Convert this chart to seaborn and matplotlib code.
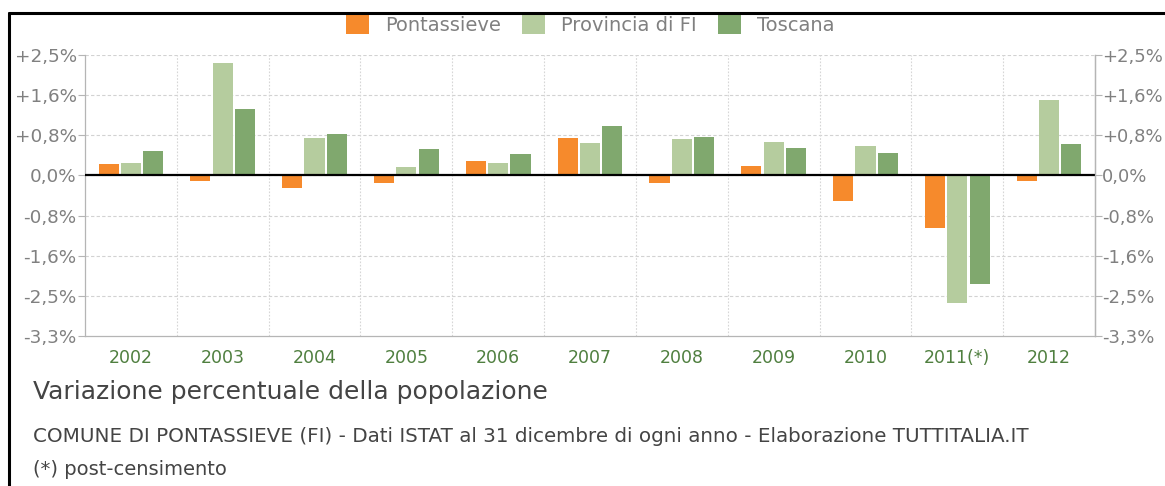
import matplotlib
matplotlib.use("Agg")
import matplotlib.pyplot as plt
from matplotlib.lines import Line2D
import seaborn as sns
import pandas as pd

# Annual population change (%), Pontassieve vs province and region
years = ["2002", "2003", "2004", "2005", "2006", "2007", "2008", "2009", "2010", "2011(*)", "2012"]
pontassieve = [0.23, -0.12, -0.26, -0.16, 0.29, 0.76, -0.16, 0.19, -0.53, -1.08, -0.12]
provincia_fi = [0.25, 2.31, 0.76, 0.17, 0.25, 0.66, 0.74, 0.68, 0.60, -2.62, 1.55]
toscana = [0.51, 1.37, 0.86, 0.55, 0.45, 1.02, 0.80, 0.56, 0.47, -2.23, 0.64]
series_names = ["Pontassieve", "Provincia di FI", "Toscana"]
series_colors = ["#f68a2c", "#b5cc9e", "#80a86e"]

ytick_values = [-3.3, -2.475, -1.65, -0.825, 0.0, 0.825, 1.65, 2.475]
ytick_labels = ["-3,3%", "-2,5%", "-1,6%", "-0,8%", "0,0%", "+0,8%", "+1,6%", "+2,5%"]

title = "Variazione percentuale della popolazione"
caption = ("COMUNE DI PONTASSIEVE (FI) - Dati ISTAT al 31 dicembre di ogni anno - "
           "Elaborazione TUTTITALIA.IT")
footnote = "(*) post-censimento"

df = pd.DataFrame({
    "anno": years * 3,
    "serie": [s for s in series_names for _ in years],
    "variazione": pontassieve + provincia_fi + toscana,
})

sns.set_theme(style="white")
plt.rcParams["font.family"] = ["DejaVu Sans"]

W, H = 1165, 486
fig = plt.figure(figsize=(W / 100, H / 100), dpi=100)
fig.patch.set_facecolor("white")
ax = fig.add_axes([85 / W, (H - 336) / H, 1010 / W, 281 / H])

sns.barplot(data=df, x="anno", y="variazione", hue="serie", order=years,
            hue_order=series_names, palette=series_colors, saturation=1,
            width=0.73, gap=0.1, linewidth=0, errorbar=None, ax=ax, zorder=3)

ax.set_xlim(-0.5, len(years) - 0.5)
ax.set_ylim(ytick_values[0], ytick_values[-1])
ax.set_yticks(ytick_values)
ax.set_yticklabels(ytick_labels)
ax.set_xlabel("")
ax.set_ylabel("")

for v in ytick_values[1:]:
    ax.axhline(v, color="#d2d2d2", lw=0.8, ls=(0, (3, 2)), zorder=1)
for i in range(1, len(years)):
    ax.axvline(i - 0.5, color="#d6d6d6", lw=0.8, ls=(0, (1.5, 1.5)), zorder=1)
ax.axhline(0, color="black", lw=1.6, zorder=4)

ax.spines["top"].set_visible(False)
for side in ["left", "right", "bottom"]:
    ax.spines[side].set_color("#b5b5b5")
    ax.spines[side].set_linewidth(0.9)

ax.tick_params(axis="y", which="both", left=True, length=5, width=0.8,
               color="#b5b5b5", labelsize=13.2, labelcolor="#808080", pad=1)
ax.tick_params(axis="x", bottom=False, labelsize=12.5, labelcolor="#4f7f3f", pad=3)

ax2 = ax.twinx()
ax2.set_ylim(ytick_values[0], ytick_values[-1])
ax2.set_yticks(ytick_values)
ax2.set_yticklabels(ytick_labels)
for side in ["top", "left", "bottom"]:
    ax2.spines[side].set_visible(False)
ax2.spines["right"].set_color("#b5b5b5")
ax2.spines["right"].set_linewidth(0.9)
ax2.tick_params(axis="y", right=True, length=5, width=0.8, color="#b5b5b5",
                labelsize=13, labelcolor="#808080", pad=0)
ax2.grid(False)

sns.move_legend(ax, "center", bbox_to_anchor=(0.5, 1.107), ncol=3, frameon=False,
                title=None, fontsize=14, handlelength=1.18, handleheight=1.18,
                handletextpad=0.82, columnspacing=1.1)
for t in ax.get_legend().get_texts():
    t.set_color("#808080")

fig.text(33 / W, (H - 392) / H, title, fontsize=18, color="#444444", va="center", ha="left")
fig.text(33 / W, (H - 436) / H, caption, fontsize=14.3, color="#444444", va="center", ha="left")
fig.text(33 / W, (H - 469) / H, footnote, fontsize=14, color="#444444", va="center", ha="left")

# black frame along the top and left edges
fig.add_artist(Line2D([9 / W, 1.0], [(H - 13) / H, (H - 13) / H], color="black", lw=2.2,
                      transform=fig.transFigure))
fig.add_artist(Line2D([9 / W, 9 / W], [0.0, (H - 13) / H], color="black", lw=2.2,
                      transform=fig.transFigure))

fig.savefig("out.png", dpi=100, facecolor="white")
